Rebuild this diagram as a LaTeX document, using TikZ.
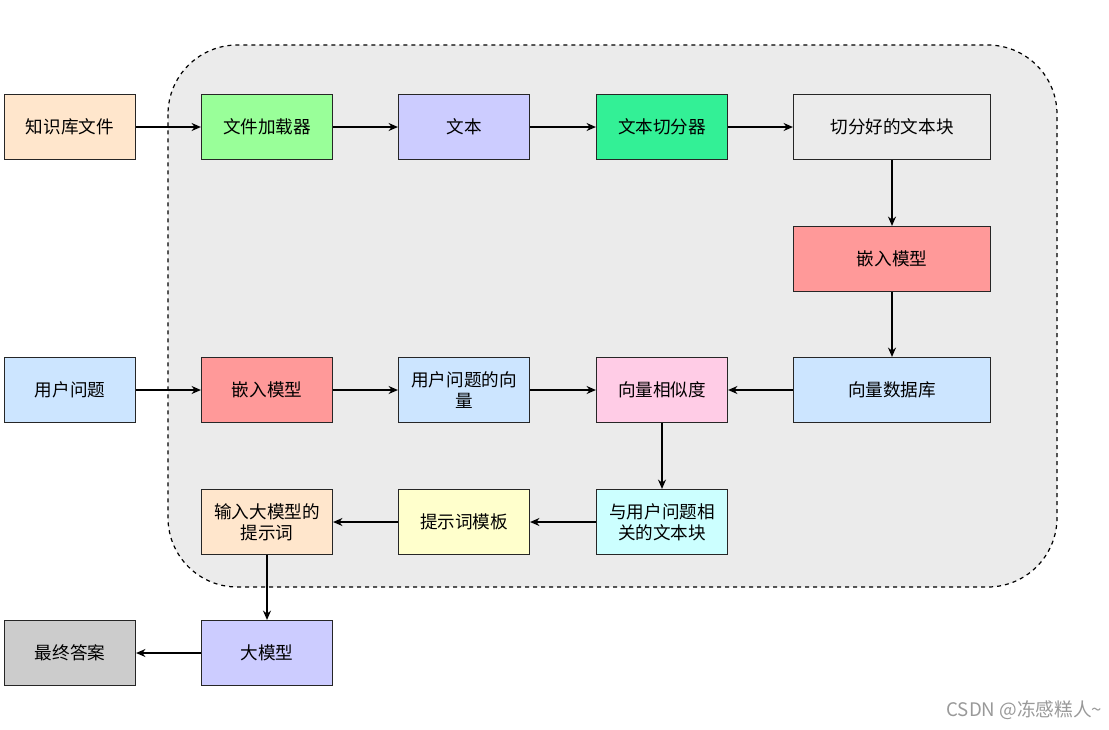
\documentclass[tikz,border=0pt]{standalone}
\usepackage{fontspec}
\setmainfont{Noto Sans CJK SC}
\usetikzlibrary{arrows.meta}
\begin{document}
\begin{tikzpicture}[x=0.75pt,y=-0.75pt,
 box/.style={draw=black!85,line width=0.9pt,minimum width=98.25pt,minimum height=48.75pt,inner sep=1pt,align=center,font=\fontsize{13.2}{15.5}\selectfont},
 wide/.style={box,minimum width=147.75pt},
 arr/.style={-{Stealth[length=7pt,width=6pt]},line width=0.9pt}]
\useasboundingbox (0,0) rectangle (1109,729);
\draw[dashed,line width=0.9pt,fill=black!8,rounded corners=52pt] (168,45) rectangle (1057,587);
\node[box,fill={rgb,255:red,255;green,230;blue,204}] (a) at (70,127) {知识库文件};
\node[box,fill={rgb,255:red,153;green,255;blue,153}] (b) at (267,127) {文件加载器};
\node[box,fill={rgb,255:red,204;green,204;blue,255}] (c) at (464,127) {文本};
\node[box,fill={rgb,255:red,51;green,240;blue,150}] (d) at (662,127) {文本切分器};
\node[wide,fill={rgb,255:red,235;green,235;blue,235}] (e) at (892,127) {切分好的文本块};
\node[wide,fill={rgb,255:red,255;green,153;blue,153}] (f) at (892,259) {嵌入模型};
\node[wide,fill={rgb,255:red,204;green,229;blue,255}] (g) at (892,390) {向量数据库};
\node[box,fill={rgb,255:red,255;green,204;blue,230}] (h) at (662,390) {向量相似度};
\node[box,fill={rgb,255:red,204;green,229;blue,255}] (i) at (464,390) {用户问题的向\\量};
\node[box,fill={rgb,255:red,255;green,153;blue,153}] (j) at (267,390) {嵌入模型};
\node[box,fill={rgb,255:red,204;green,229;blue,255}] (k) at (70,390) {用户问题};
\node[box,fill={rgb,255:red,204;green,255;blue,255}] (l) at (662,522) {与用户问题相\\关的文本块};
\node[box,fill={rgb,255:red,255;green,255;blue,204}] (m) at (464,522) {提示词模板};
\node[box,fill={rgb,255:red,255;green,230;blue,204}] (n) at (267,522) {输入大模型的\\提示词};
\node[box,fill={rgb,255:red,204;green,204;blue,255}] (o) at (267,653) {大模型};
\node[box,fill={rgb,255:red,204;green,204;blue,204}] (p) at (70,653) {最终答案};
\draw[arr] (a)--(b); \draw[arr] (b)--(c); \draw[arr] (c)--(d); \draw[arr] (d)--(e);
\draw[arr] (e)--(f); \draw[arr] (f)--(g); \draw[arr] (g)--(h);
\draw[arr] (k)--(j); \draw[arr] (j)--(i); \draw[arr] (i)--(h);
\draw[arr] (h)--(l); \draw[arr] (l)--(m); \draw[arr] (m)--(n);
\draw[arr] (n)--(o); \draw[arr] (o)--(p);
\node[text=black!40,font=\fontsize{14}{16}\selectfont,anchor=east] (w) at (1107,710) {CSDN @冻感糕人\textasciitilde};
\end{tikzpicture}
\end{document}
